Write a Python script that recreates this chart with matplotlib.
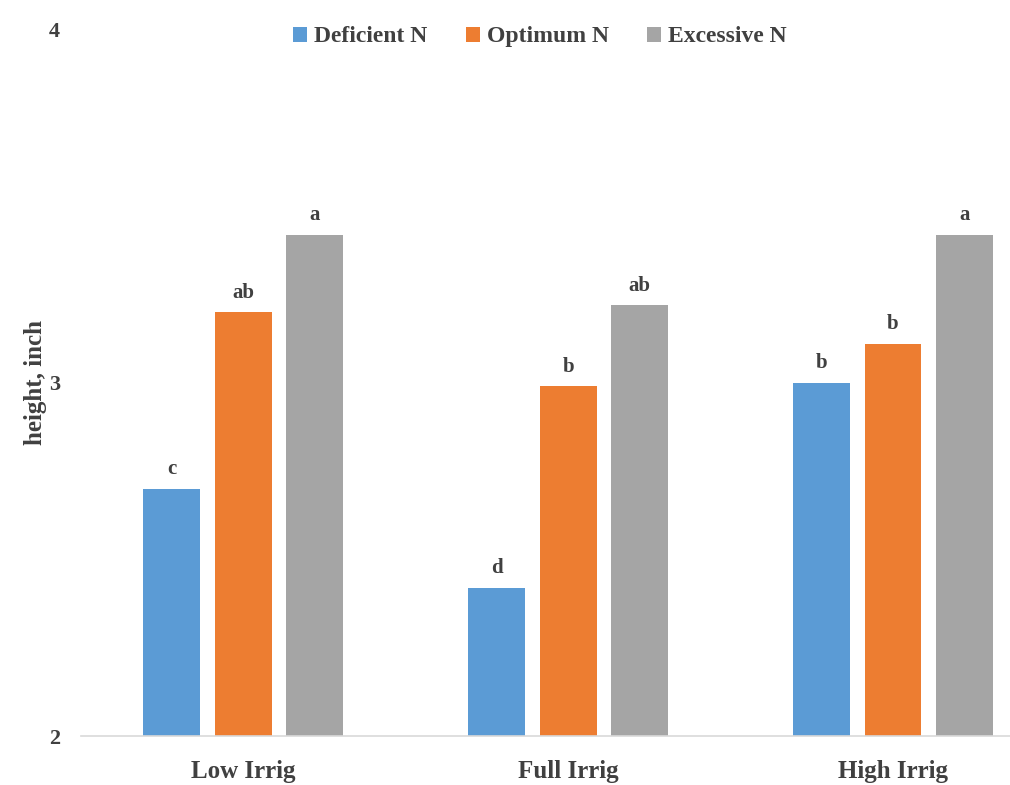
import matplotlib
matplotlib.use("Agg")
import matplotlib.pyplot as plt
import numpy as np

categories = ["Low Irrig", "Full Irrig", "High Irrig"]
series_names = ["Deficient N", "Optimum N", "Excessive N"]
deficient = [2.70, 2.42, 3.00]
optimum = [3.20, 2.99, 3.11]
excessive = [3.42, 3.22, 3.42]
letters_deficient = ["c", "d", "b"]
letters_optimum = ["ab", "b", "b"]
letters_excessive = ["a", "ab", "a"]
yticks = [2, 3, 4]

colors = ["#5B9BD5", "#ED7D31", "#A5A5A5"]
txt = "#404040"
plt.rcParams['font.family'] = ['Liberation Serif', 'DejaVu Serif']
plt.rcParams['font.weight'] = 'bold'

fig = plt.figure(figsize=(10.10, 7.85), dpi=100)
ax = fig.add_axes([0.080, 0.0624, 0.92, 0.8996])

x = np.arange(len(categories))
width = 0.175
step = 0.22
all_vals = [deficient, optimum, excessive]
all_letters = [letters_deficient, letters_optimum, letters_excessive]
for i, (vals, lets, name, c) in enumerate(zip(all_vals, all_letters, series_names, colors)):
    pos = x + (i - 1) * step
    ax.bar(pos, [v - 2 for v in vals], width, bottom=2, color=c, label=name, zorder=2)
    for p, v, l in zip(pos, vals, lets):
        ax.annotate(l, (p, v), xytext=(0, 7), textcoords="offset points",
                    ha="center", va="bottom", fontsize=15, fontweight="bold", color=txt)

ax.set_ylim(2, 4)
ax.set_xlim(-0.5, 2.36)
ax.set_yticks(yticks)
ax.set_xticks(x)
ax.set_xticklabels(categories)
for s in ["top", "right", "left"]:
    ax.spines[s].set_visible(False)
ax.spines["bottom"].set_color("#D9D9D9")
ax.spines["bottom"].set_linewidth(1.2)
ax.tick_params(axis="both", length=0, colors=txt, labelsize=16)
ax.tick_params(axis="x", pad=17, labelsize=18)
ax.tick_params(axis="y", pad=15)
ax.set_ylabel("height, inch", fontsize=18, fontweight="bold", color=txt)
ax.yaxis.set_label_coords(-0.036, 0.5)

leg = ax.legend(loc="upper center", bbox_to_anchor=(0.494, 1.035), ncol=3, frameon=False,
                fontsize=17, handlelength=0.6, handleheight=0.6, handletextpad=0.3,
                columnspacing=1.6)
for t in leg.get_texts():
    t.set_color(txt)

fig.savefig("out.png", dpi=100)
